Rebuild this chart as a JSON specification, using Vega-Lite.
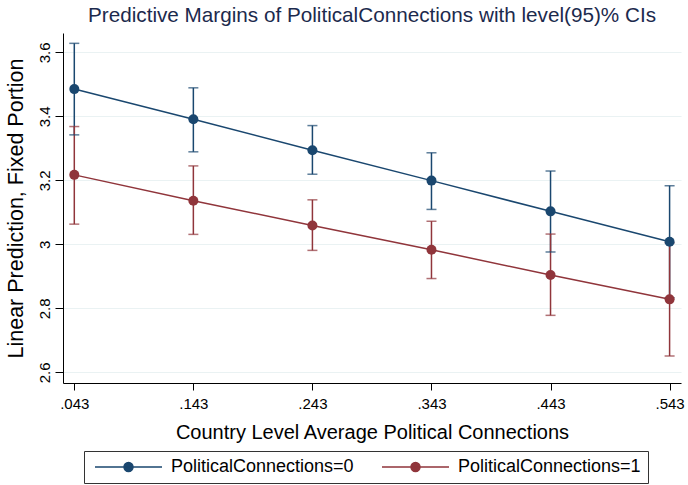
{
  "$schema": "https://vega.github.io/schema/vega-lite/v6.json",
  "width": 618,
  "height": 350,
  "autosize": "none",
  "padding": {"left": 63, "top": 33, "right": 7, "bottom": 102},
  "background": "white",
  "config": {
    "font": "Liberation Sans",
    "view": {"stroke": null},
    "axis": {"labelFont": "Liberation Sans", "titleFont": "Liberation Sans", "labelColor": "#000", "titleColor": "#000", "titleFontWeight": "normal", "domainColor": "#000", "tickColor": "#000", "gridColor": "#eaf2f3", "gridWidth": 1.2}
  },
  "title": {"text": "Predictive Margins of PoliticalConnections with level(95)% CIs", "fontSize": 20.7, "font": "Liberation Sans", "fontWeight": "normal", "color": "#1c2a4d", "anchor": "middle", "offset": 6},
  "data": {"values": [
    {"x": 0.043, "group": "PoliticalConnections=0", "y": 3.485, "lo": 3.342, "hi": 3.628},
    {"x": 0.143, "group": "PoliticalConnections=0", "y": 3.391, "lo": 3.289, "hi": 3.489},
    {"x": 0.243, "group": "PoliticalConnections=0", "y": 3.294, "lo": 3.219, "hi": 3.371},
    {"x": 0.343, "group": "PoliticalConnections=0", "y": 3.199, "lo": 3.109, "hi": 3.286},
    {"x": 0.443, "group": "PoliticalConnections=0", "y": 3.103, "lo": 2.976, "hi": 3.229},
    {"x": 0.543, "group": "PoliticalConnections=0", "y": 3.008, "lo": 2.833, "hi": 3.183},
    {"x": 0.043, "group": "PoliticalConnections=1", "y": 3.217, "lo": 3.063, "hi": 3.368},
    {"x": 0.143, "group": "PoliticalConnections=1", "y": 3.136, "lo": 3.031, "hi": 3.245},
    {"x": 0.243, "group": "PoliticalConnections=1", "y": 3.059, "lo": 2.981, "hi": 3.139},
    {"x": 0.343, "group": "PoliticalConnections=1", "y": 2.983, "lo": 2.893, "hi": 3.072},
    {"x": 0.443, "group": "PoliticalConnections=1", "y": 2.904, "lo": 2.778, "hi": 3.032},
    {"x": 0.543, "group": "PoliticalConnections=1", "y": 2.828, "lo": 2.651, "hi": 3.005}
  ]},
  "encoding": {
    "x": {"field": "x", "type": "quantitative",
      "scale": {"domain": [0.03351, 0.55258], "nice": false, "zero": false},
      "axis": {"values": [0.043, 0.143, 0.243, 0.343, 0.443, 0.543], "labelExpr": "substring(format(datum.value, '.3f'), 1)", "grid": false, "tickSize": 7, "labelFontSize": 15, "labelPadding": 6, "title": "Country Level Average Political Connections", "titleFontSize": 20, "titlePadding": 11}},
    "color": {"field": "group", "type": "nominal",
      "scale": {"domain": ["PoliticalConnections=0", "PoliticalConnections=1"], "range": ["#1a476f", "#90353b"]},
      "legend": {"orient": "none", "legendX": 21, "legendY": 418, "direction": "horizontal", "columns": 2, "title": null,
        "symbolType": "M-1,0H12.4M4.8,0A0.9,0.9,0,1,1,6.6,0A0.9,0.9,0,1,1,4.8,0Z",
        "symbolSize": 100, "symbolStrokeWidth": 1.5, "labelFontSize": 18, "labelFont": "Liberation Sans", "labelColor": "#000",
        "labelExpr": "datum.label + '  '", "labelLimit": 400,
        "labelOffset": 62, "columnPadding": 24, "padding": 7, "strokeColor": "#333",
        "encode": {"symbols": {"update": {"fill": {"scale": "color", "field": "value"}, "stroke": {"scale": "color", "field": "value"}}}}}}
  },
  "layer": [
    {"mark": {"type": "rule", "strokeWidth": 1.5},
     "encoding": {"y": {"field": "lo", "type": "quantitative",
        "scale": {"domain": [2.5666, 3.6603], "nice": false, "zero": false},
        "axis": {"values": [2.6, 2.8, 3.0, 3.2, 3.4, 3.6], "format": ".1~f", "labelAngle": 270, "labelAlign": "center", "labelBaseline": "alphabetic", "labelFontSize": 15, "labelPadding": 6, "tickSize": 8, "grid": true, "title": "Linear Prediction, Fixed Portion", "titleFontSize": 21.5, "titlePadding": 10}},
       "y2": {"field": "hi"}}},
    {"mark": {"type": "tick", "orient": "horizontal", "size": 10, "thickness": 1.5},
     "encoding": {"y": {"field": "lo", "type": "quantitative"}}},
    {"mark": {"type": "tick", "orient": "horizontal", "size": 10, "thickness": 1.5},
     "encoding": {"y": {"field": "hi", "type": "quantitative"}}},
    {"mark": {"type": "line", "strokeWidth": 1.5},
     "encoding": {"y": {"field": "y", "type": "quantitative"}}},
    {"mark": {"type": "point", "filled": true, "size": 100, "opacity": 1},
     "encoding": {"y": {"field": "y", "type": "quantitative"}}}
  ]
}
